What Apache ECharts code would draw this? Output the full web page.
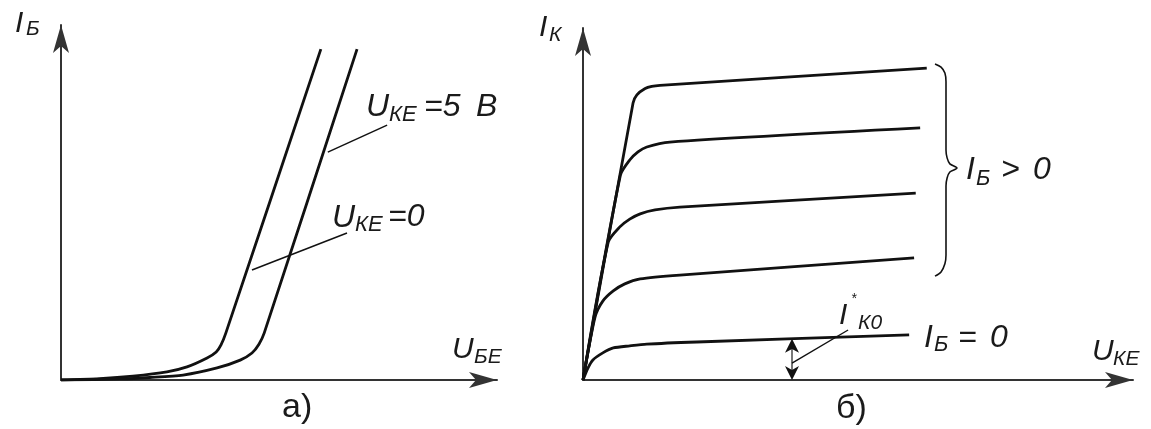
<!DOCTYPE html>
<html>
<head>
<meta charset="utf-8">
<script src="https://cdn.jsdelivr.net/npm/echarts@6/dist/echarts.min.js"></script>
<style>
  html, body { margin: 0; padding: 0; background: #fff; }
  #chart { width: 1151px; height: 429px; }
</style>
</head>
<body>
<div id="chart"></div>
<script>
// а) input characteristics I_Б(U_БЕ), relative units 0..100
const inputUke0 = [[0,0],[8.9,0.4],[16.5,1.1],[24.3,2.3],[28.9,3.7],[33.5,6.2],[35.6,7.9],[36.7,9.9],[37.8,13.2],[59.6,93.2]];
const inputUke5 = [[0,0],[13.5,0.3],[20.4,0.7],[28.0,1.4],[35.8,3.4],[41.1,5.6],[43.8,7.6],[45.4,10.1],[46.6,13.2],[67.9,93.2]];
const leaderUke5 = [[61.2,64.2],[74.8,71.8]];
const leaderUke0 = [[43.8,31.0],[65.6,41.4]];

// б) output characteristics I_К(U_КЕ), relative units 0..100
const outputIb4 = [[0,0],[9.1,78.7],[9.8,81.0],[11.3,82.8],[12.5,83.4],[14.0,83.7],[62.5,88.6]];
const outputIb3 = [[0,0],[6.8,58.2],[8.5,62.5],[10.0,64.8],[11.6,66.2],[15.8,67.6],[61.3,71.6]];
const outputIb2 = [[0,0],[4.6,39.2],[6.7,43.5],[8.5,45.7],[10.4,47.2],[13.1,48.3],[17.6,49.1],[60.5,53.1]];
const outputIb1 = [[0,0],[2.2,17.9],[3.6,22.4],[5.5,25.3],[7.6,27.3],[10.4,28.7],[17.6,29.8],[60.2,34.7]];
const outputIb0 = [[0,0],[0.9,3.4],[1.8,5.7],[3.6,7.7],[5.5,9.1],[8.5,9.7],[11.6,10.2],[20.7,10.8],[59.3,12.8]];
const ik0Span = [[38.0, 0, 11.7]];        // x, bottom, top of the I*К0 double arrow
const leaderIk0 = [[38.0,4.8],[48.2,14.2]];
const braceIbPos = [[64.0,89.8],[65.1,88.9],[65.8,87.2],[66.0,84.7],[66.0,65.3],[66.2,63.1],[66.7,61.4],[68.0,60.2],
                    [66.7,59.1],[66.2,57.4],[66.0,55.1],[66.0,35.5],[65.8,33.0],[65.1,30.7],[64.0,29.5]];

const INK = '#111';
const TXT = '#1a1a1a';
const FONT = '"Liberation Sans", Arial, sans-serif';

function axis(gridIndex) {
  return {
    gridIndex, type: 'value', min: 0, max: 100,
    axisLine: { show: true, symbol: ['none', 'arrow'], symbolSize: [12, 28],
                lineStyle: { color: '#333', width: 2 } },
    axisTick: { show: false }, axisLabel: { show: false }, splitLine: { show: false }
  };
}

function curve(data, xi, width) {
  return {
    type: 'line', data, xAxisIndex: xi, yAxisIndex: xi,
    showSymbol: false, symbol: 'none', silent: true, smooth: 0.25,
    lineStyle: { color: INK, width: width || 2.8 }, animation: false
  };
}

function thin(data, xi, width, color) {
  return {
    type: 'line', data, xAxisIndex: xi, yAxisIndex: xi,
    showSymbol: false, symbol: 'none', silent: true,
    lineStyle: { color: color || INK, width: width || 1.5 }, animation: false
  };
}

// text piece placed by its baseline
function txt(t, x, baseline, size, italic) {
  return {
    type: 'text', x, y: baseline - 0.81 * size, silent: true,
    style: { text: t, fill: TXT, font: (italic === false ? '' : 'italic ') + size + 'px ' + FONT,
             align: 'left', verticalAlign: 'top' }
  };
}

const labels = [
  // а)
  txt('I', 15, 33, 30), txt('Б', 26, 36, 21),
  txt('U', 452, 359, 30), txt('БЕ', 474, 364, 21),
  txt('U', 366, 117, 32), txt('КЕ', 389, 122, 22), txt('=5', 424, 117, 32), txt('В', 476, 117, 32),
  txt('U', 332, 228, 32), txt('КЕ', 355, 232, 22), txt('=0', 388, 227, 32),
  txt('а)', 282, 418, 34, false),
  // б)
  txt('I', 539, 37, 30), txt('К', 549, 42, 21),
  txt('U', 1092, 361, 30), txt('КЕ', 1113, 366, 21),
  txt('I', 966, 180, 32), txt('Б', 976, 186, 22), txt('>', 1001, 180, 32), txt('0', 1033, 180, 32),
  txt('I', 924, 348, 32), txt('Б', 934, 352, 22), txt('=', 958, 348, 32), txt('0', 990, 348, 32),
  txt('I', 839, 325, 30), txt('*', 851, 303, 14), txt('К0', 858, 330, 21),
  txt('б)', 836, 419, 34, false)
];

// vertical double-headed arrow between two values on the same x
function doubleArrow(params, api) {
  const b = api.coord([api.value(0), api.value(1)]);
  const t = api.coord([api.value(0), api.value(2)]);
  const h = 14, hw = 7;
  return {
    type: 'group', silent: true,
    children: [
      { type: 'line', shape: { x1: b[0], y1: b[1] - h * 0.7, x2: t[0], y2: t[1] + h * 0.7 },
        style: { stroke: '#555', lineWidth: 1.6 } },
      { type: 'polygon', shape: { points: [[t[0], t[1]], [t[0] + hw, t[1] + h], [t[0], t[1] + h * 0.72], [t[0] - hw, t[1] + h]] },
        style: { fill: INK } },
      { type: 'polygon', shape: { points: [[b[0], b[1]], [b[0] + hw, b[1] - h], [b[0], b[1] - h * 0.72], [b[0] - hw, b[1] - h]] },
        style: { fill: INK } }
    ]
  };
}

const chart = echarts.init(document.getElementById('chart'), null, { renderer: 'canvas' });
chart.setOption({
  animation: false,
  backgroundColor: '#fff',
  grid: [
    { left: 61, top: 25, width: 436, height: 355 },
    { left: 583, top: 28, width: 550, height: 352 }
  ],
  xAxis: [axis(0), axis(1)],
  yAxis: [axis(0), axis(1)],
  series: [
    curve(inputUke0, 0), curve(inputUke5, 0),
    thin(leaderUke5, 0), thin(leaderUke0, 0),
    curve(outputIb4, 1), curve(outputIb3, 1), curve(outputIb2, 1), curve(outputIb1, 1), curve(outputIb0, 1),
    thin(leaderIk0, 1, 1.4),
    Object.assign(thin(braceIbPos, 1, 1.6), { smooth: 0.3 }),
    { type: 'custom', xAxisIndex: 1, yAxisIndex: 1, silent: true, animation: false,
      renderItem: doubleArrow, data: ik0Span, clip: false }
  ],
  graphic: labels
});
</script>
</body>
</html>
